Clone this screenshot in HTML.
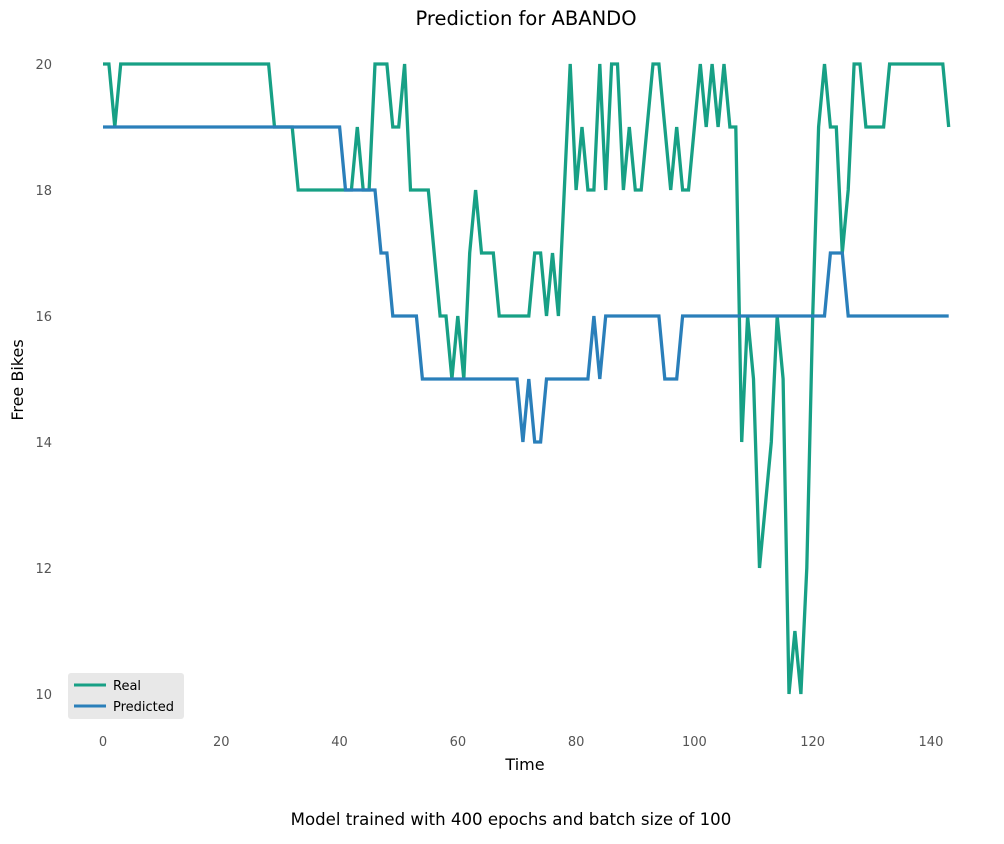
<!DOCTYPE html>
<html><head><meta charset="utf-8"><style>
body{margin:0;background:#fff;font-family:"Liberation Sans","DejaVu Sans",sans-serif}
svg text{font-family:"DejaVu Sans","Liberation Sans",sans-serif}
</style></head><body>
<svg id="chart" width="1004" height="839" xmlns="http://www.w3.org/2000/svg">
<text x="526" y="25" text-anchor="middle" font-size="19.5" fill="#000">Prediction for ABANDO</text>
<g id="yticks"></g><g id="xticks"></g>
<g id="lines"></g>
<text x="525" y="770" text-anchor="middle" font-size="16">Time</text>
<text transform="translate(23,380) rotate(-90)" text-anchor="middle" font-size="16">Free Bikes</text>
<text x="511" y="825" text-anchor="middle" font-size="16.6">Model trained with 400 epochs and batch size of 100</text>
<g>
<rect x="68" y="673" width="116" height="46" rx="3" fill="#e8e8e8"/>
<line x1="74" y1="685" x2="106" y2="685" stroke="#17a085" stroke-width="3"/>
<text x="113" y="690" font-size="13">Real</text>
<line x1="74" y1="706" x2="106" y2="706" stroke="#2a7fba" stroke-width="3"/>
<text x="113" y="711" font-size="13">Predicted</text>
</g>
</svg>
<script>
const realValues=[20,20,19,20,20,20,20,20,20,20,20,20,20,20,20,20,20,20,20,20,20,20,20,20,20,20,20,20,20,19,19,19,19,18,18,18,18,18,18,18,18,18,18,19,18,18,20,20,20,19,19,20,18,18,18,18,17,16,16,15,16,15,17,18,17,17,17,16,16,16,16,16,16,17,17,16,17,16,18,20,18,19,18,18,20,18,20,20,18,19,18,18,19,20,20,19,18,19,18,18,19,20,19,20,19,20,19,19,14,16,15,12,13,14,16,15,10,11,10,12,16,19,20,19,19,17,18,20,20,19,19,19,19,20,20,20,20,20,20,20,20,20,20,19];
const predictedValues=[19,19,19,19,19,19,19,19,19,19,19,19,19,19,19,19,19,19,19,19,19,19,19,19,19,19,19,19,19,19,19,19,19,19,19,19,19,19,19,19,19,18,18,18,18,18,18,17,17,16,16,16,16,16,15,15,15,15,15,15,15,15,15,15,15,15,15,15,15,15,15,14,15,14,14,15,15,15,15,15,15,15,15,16,15,16,16,16,16,16,16,16,16,16,16,15,15,15,16,16,16,16,16,16,16,16,16,16,16,16,16,16,16,16,16,16,16,16,16,16,16,16,16,17,17,17,16,16,16,16,16,16,16,16,16,16,16,16,16,16,16,16,16,16];
const xTickLabels=[0,20,40,60,80,100,120,140];
const yTickLabels=[10,12,14,16,18,20];
const NS="http://www.w3.org/2000/svg";
function xs(v){return 103+v*5.914;}
function ys(v){return 64+(20-v)*63;}
const yt=document.getElementById('yticks');
yTickLabels.forEach(v=>{const t=document.createElementNS(NS,'text');


t.setAttribute('x',52);t.setAttribute('y',ys(v)+5);t.setAttribute('text-anchor','end');t.setAttribute('font-size','13');t.setAttribute('fill','#555');t.textContent=v;yt.appendChild(t);});
const xt=document.getElementById('xticks');
xTickLabels.forEach(v=>{const t=document.createElementNS(NS,'text');


t.setAttribute('x',xs(v));t.setAttribute('y',746);t.setAttribute('text-anchor','middle');t.setAttribute('font-size','13');t.setAttribute('fill','#555');t.textContent=v;xt.appendChild(t);});
const lg=document.getElementById('lines');
function draw(arr,color,name){const p=document.createElementNS(NS,'path');


p.setAttribute('d',arr.map((v,i)=>(i?'L':'M')+xs(i).toFixed(1)+','+ys(v).toFixed(1)).join(''));
p.setAttribute('fill','none');p.setAttribute('stroke',color);p.setAttribute('stroke-width','3.3');lg.appendChild(p);}
draw(realValues,'#17a085','real-line');
draw(predictedValues,'#2a7fba','predicted-line');
</script>
</body></html>
